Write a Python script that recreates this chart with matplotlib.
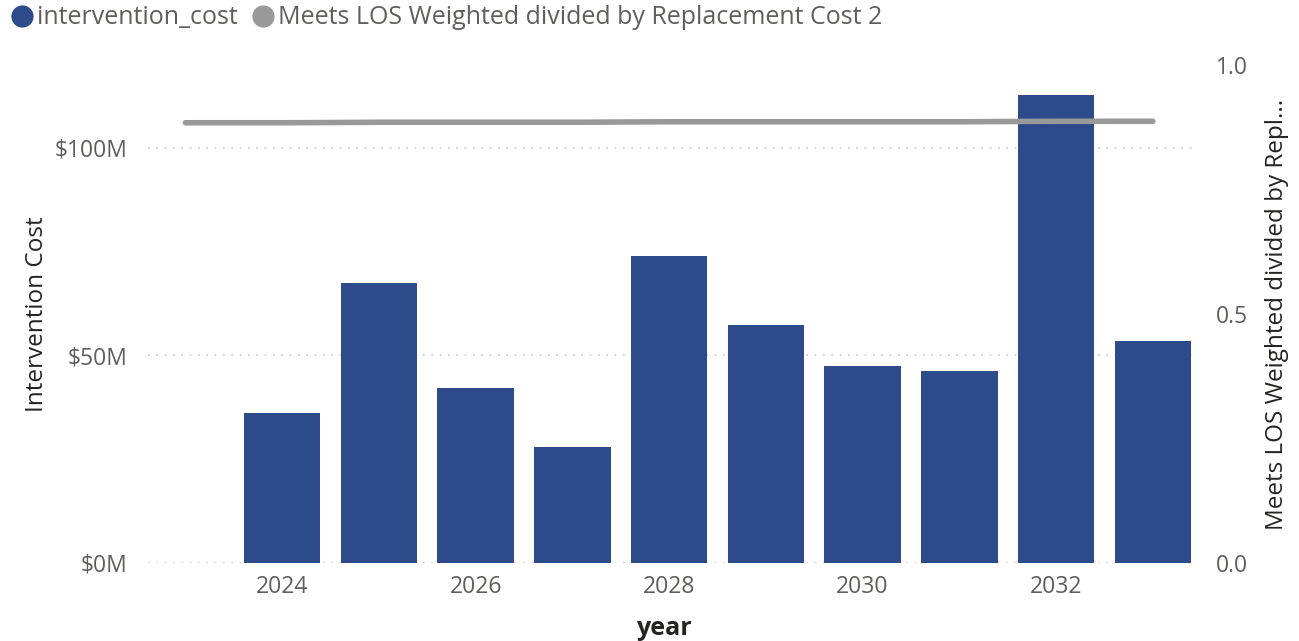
import matplotlib
matplotlib.use("Agg")
import matplotlib.pyplot as plt
from matplotlib.lines import Line2D
import numpy as np

years = [2023, 2024, 2025, 2026, 2027, 2028, 2029, 2030, 2031, 2032, 2033]
intervention_cost = [np.nan, 36.1, 67.5, 42.2, 28.0, 74.0, 57.3, 47.5, 46.3, 112.8, 53.5]  # $M
meets_los_ratio = [0.884, 0.884, 0.885, 0.885, 0.885, 0.886, 0.886, 0.886, 0.886, 0.887, 0.887]
left_ticks = [0, 50, 100]
left_ticklabels = ["$0M", "$50M", "$100M"]
right_ticks = [0.0, 0.5, 1.0]
right_ticklabels = ["0.0", "0.5", "1.0"]
x_ticks = [2024, 2026, 2028, 2030, 2032]

plt.rcParams['font.family'] = ['Open Sans', 'DejaVu Sans']

bar_color = "#2D4A8A"
line_color = "#999999"
tick_color = "#605E5C"
title_color = "#252423"

fig = plt.figure(figsize=(12.99, 6.41), dpi=100)
ax = fig.add_axes([0.1055, 0.1217, 0.8125, 0.7769])
ax.set_zorder(1)
ax.patch.set_visible(False)

ax.bar(years, intervention_cost, width=0.79, color=bar_color, zorder=2)
ax.set_xlim(2022.5, 2033.41)
ax.set_ylim(0, 120)
ax.set_yticks(left_ticks)
ax.set_yticklabels(left_ticklabels)
ax.set_xticks(x_ticks)
ax.set_xticklabels([str(y) for y in x_ticks])
for v in left_ticks:
    ax.axhline(v, xmin=0.01, color="#C8C8C8", linestyle=(0, (1, 4)), linewidth=1.2, zorder=1)
for s in ax.spines.values():
    s.set_visible(False)
ax.tick_params(axis='both', length=0, labelsize=16.5, colors=tick_color)
ax.tick_params(axis='y', pad=7)
ax.tick_params(axis='x', pad=9)
ax.set_xlabel("year", fontsize=18, color=title_color, fontweight='bold', labelpad=12)
ax.set_ylabel("Intervention Cost", fontsize=17.5, color=title_color, labelpad=4)

ax2 = ax.twinx()
ax2.set_zorder(2)
ax2.plot(years, meets_los_ratio, color=line_color, linewidth=4, solid_capstyle='round', zorder=3)
ax2.set_ylim(0, 1.0)
ax2.set_yticks(right_ticks)
ax2.set_yticklabels(right_ticklabels)
for s in ax2.spines.values():
    s.set_visible(False)
ax2.tick_params(axis='y', length=0, labelsize=16.5, colors=tick_color, pad=17)
ax2.set_ylabel("Meets LOS Weighted divided by Repl...", fontsize=17.5, color=title_color, labelpad=12)

handles = [
    Line2D([0], [0], marker='o', linestyle='none', markersize=15, markerfacecolor=bar_color, markeredgecolor=bar_color),
    Line2D([0], [0], marker='o', linestyle='none', markersize=15, markerfacecolor=line_color, markeredgecolor=line_color),
]
fig.legend(handles, ["intervention_cost", "Meets LOS Weighted divided by Replacement Cost 2"],
           loc='center left', bbox_to_anchor=(0.0085, 0.972), ncol=2, frameon=False,
           borderpad=0, borderaxespad=0,
           fontsize=18, handletextpad=0.14, columnspacing=0.56, labelcolor=tick_color, handlelength=0.9)

fig.savefig("out.png", dpi=100)
